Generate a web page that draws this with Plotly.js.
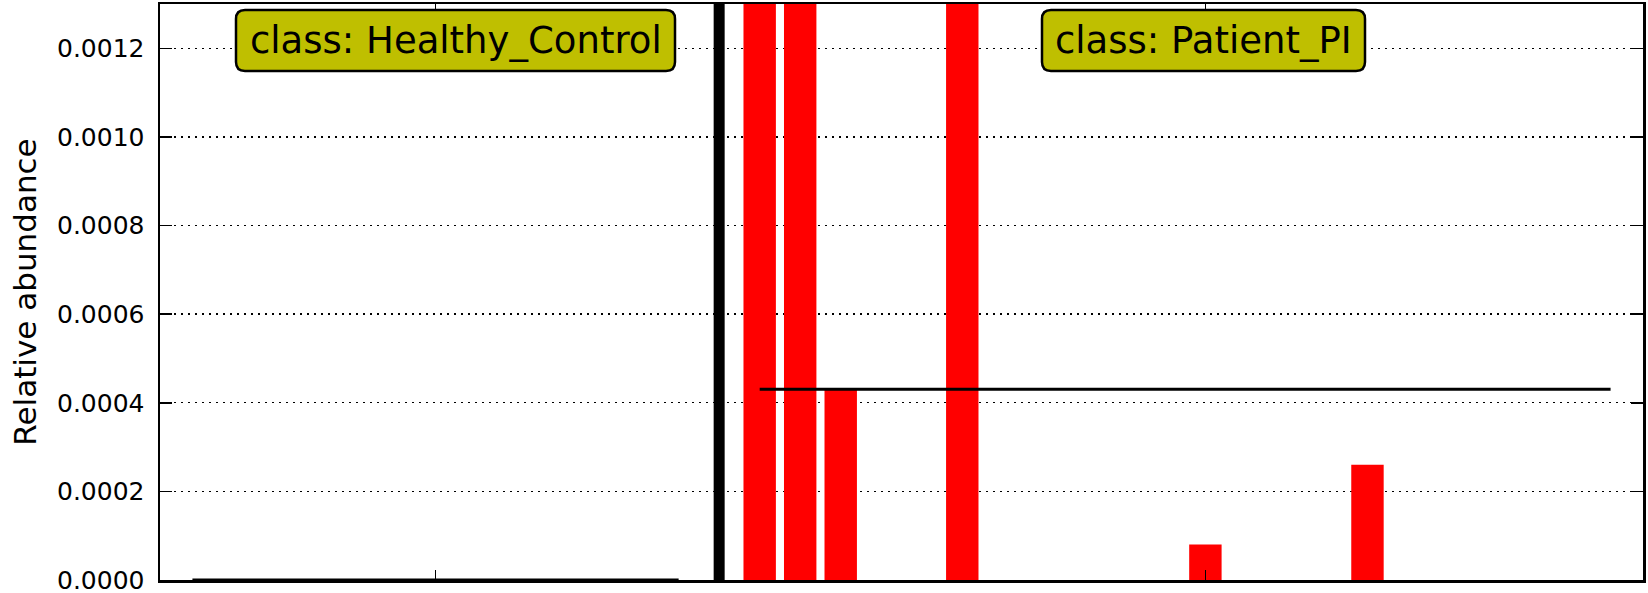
<!DOCTYPE html>
<html>
<head>
<meta charset="utf-8">
<script src="https://cdn.plot.ly/plotly-3.0.1.min.js"></script>
<style>html,body{margin:0;padding:0;background:#fff;}#chart{width:1648px;height:593px;}</style>
</head>
<body>
<div id="chart"></div>
<script>
// ---- data ----
const classNames = ["Healthy_Control", "Patient_PI"];
const healthyValues = [0,0,0,0,0,0,0,0,0,0,0,0,0];
const patientValues = [0.0041,0.0028,0.00043,0,0,0.0018,0,0,0,0,0,0.00008,0,0,0,0.00026,0,0,0,0,0,0];
const xTickVals = [6, 25];
const xTickText = ["", ""];
const yTickVals = [0, 0.0002, 0.0004, 0.0006, 0.0008, 0.0010, 0.0012];

// ---- positions derived from data ----
const hx = healthyValues.map((_, i) => i);
const sepX = healthyValues.length;
const px = patientValues.map((_, i) => sepX + 1 + i);
const mean = a => a.reduce((s, v) => s + v, 0) / a.length;
const hMean = mean(healthyValues), pMean = mean(patientValues);

const L = 160, R = 5, T = 4, B = 13, W = 1648, H = 593;
const pw = W - L - R, ph = H - T - B;
function rr(x0, x1, y0, y1, r) {
  const X = p => ((p - L) / pw).toFixed(5), Y = p => (1 - (p - T) / ph).toFixed(5);
  return `M${X(x0 + r)},${Y(y0)} L${X(x1 - r)},${Y(y0)} Q${X(x1)},${Y(y0)} ${X(x1)},${Y(y0 + r)} ` +
         `L${X(x1)},${Y(y1 - r)} Q${X(x1)},${Y(y1)} ${X(x1 - r)},${Y(y1)} L${X(x0 + r)},${Y(y1)} ` +
         `Q${X(x0)},${Y(y1)} ${X(x0)},${Y(y1 - r)} L${X(x0)},${Y(y0 + r)} Q${X(x0)},${Y(y0)} ${X(x0 + r)},${Y(y0)} Z`;
}
const boxes = [[236, 675], [1042, 1365]];

const traces = [
  {type: 'bar', x: hx, y: healthyValues, width: 0.8, marker: {color: '#ff0000', line: {width: 0}}, hoverinfo: 'x+y'},
  {type: 'bar', x: px, y: patientValues, width: 0.8, marker: {color: '#ff0000', line: {width: 0}}, hoverinfo: 'x+y'},
  {type: 'scatter', mode: 'lines', x: [hx[0], hx[hx.length - 1]], y: [hMean, hMean], line: {color: '#000', width: 3}},
  {type: 'scatter', mode: 'lines', x: [px[0], px[px.length - 1]], y: [pMean, pMean], line: {color: '#000', width: 3}}
];

const layout = {
  width: W, height: H,
  margin: {l: L, r: R, t: T, b: B},
  paper_bgcolor: '#fff', plot_bgcolor: '#fff',
  showlegend: false,
  barmode: 'overlay',
  font: {family: 'DejaVu Sans', color: '#000'},
  xaxis: {
    range: [-0.8, 35.8], tickvals: xTickVals, ticktext: xTickText,
    ticks: 'inside', ticklen: 10, tickwidth: 1.5, tickcolor: '#000',
    showline: true, linecolor: '#000', linewidth: 2.5, mirror: 'allticks',
    showgrid: false, zeroline: false
  },
  yaxis: {
    range: [0, 0.0013], tickvals: yTickVals, tickformat: '.4f',
    ticks: 'inside', ticklen: 12, tickwidth: 1.5, tickcolor: '#000',
    tickfont: {size: 25, family: 'DejaVu Sans'}, ticklabelstandoff: 8,
    ticklabeloverflow: 'allow',
    showline: true, linecolor: '#000', linewidth: 2.5, mirror: 'allticks',
    showgrid: true, gridcolor: '#000', gridwidth: 1.3, griddash: '2px,5px',
    zeroline: false,
    title: {text: 'Relative abundance', font: {size: 31, family: 'DejaVu Sans'}, standoff: 11}
  },
  shapes: [
    {type: 'line', xref: 'x', yref: 'paper', x0: sepX, x1: sepX, y0: 0, y1: 1, line: {color: '#000', width: 11}},
    ...boxes.map(b => ({type: 'path', xref: 'paper', yref: 'paper', path: rr(b[0], b[1], 10, 71, 9),
      fillcolor: '#bfbf00', line: {color: '#000', width: 2.5}, layer: 'above'}))
  ],
  annotations: classNames.map((c, i) => ({
    xref: 'paper', yref: 'paper',
    x: ((boxes[i][0] + boxes[i][1]) / 2 - L) / pw, y: 1 - (40.5 - T) / ph,
    xanchor: 'center', yanchor: 'middle', showarrow: false,
    text: 'class: ' + c, font: {size: 37, family: 'DejaVu Sans', color: '#000'}
  }))
};

Plotly.newPlot('chart', traces, layout, {displayModeBar: false, staticPlot: true});
</script>
</body>
</html>
